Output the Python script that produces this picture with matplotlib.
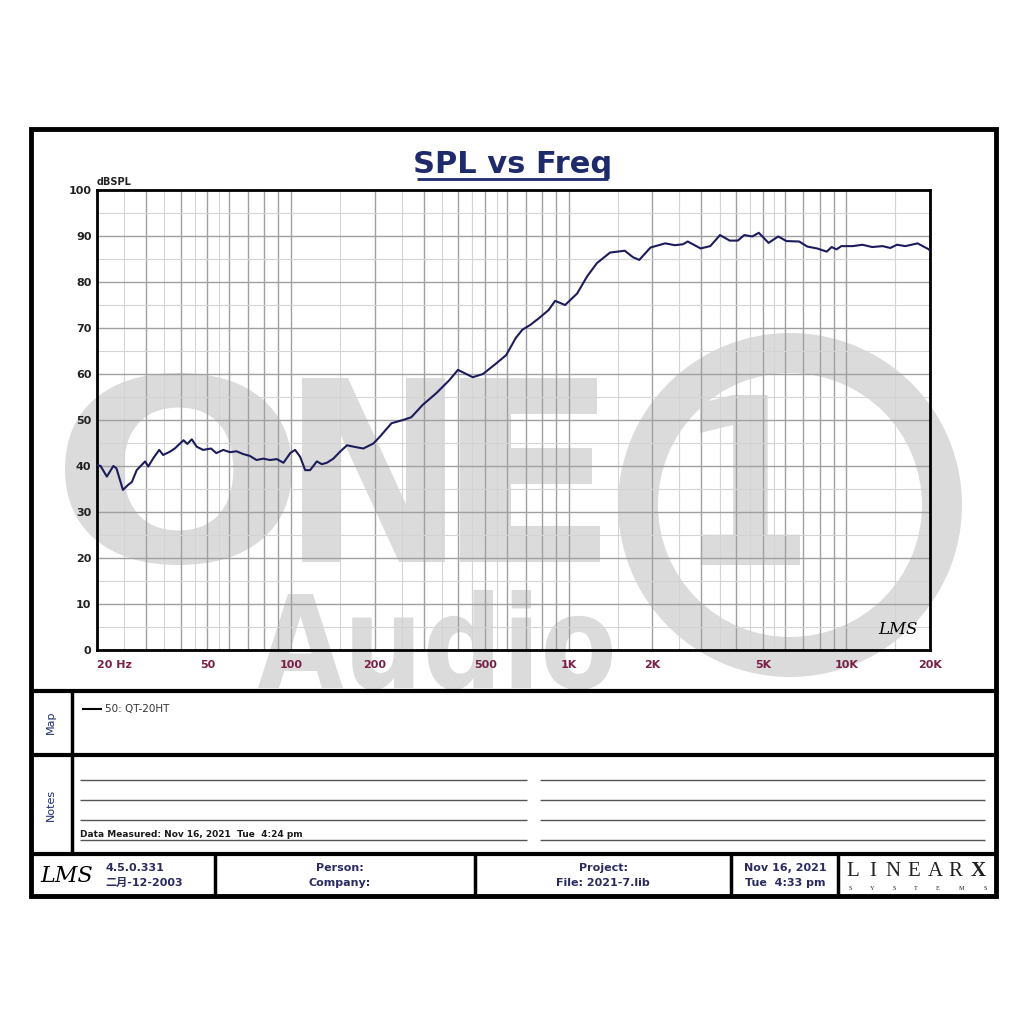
import matplotlib
matplotlib.use('Agg')
import matplotlib.pyplot as plt
from matplotlib.textpath import TextPath
from matplotlib.patches import PathPatch, Annulus, Rectangle
from matplotlib.font_manager import FontProperties
from matplotlib.transforms import Affine2D
from matplotlib.ticker import NullLocator

# ---------------- data ----------------
freq_hz = [20, 20.6, 21.7, 22.9, 23.5, 24.8, 26.0, 26.7, 27.8, 29.8, 30.6, 31.9, 33.5, 34.6,
           36.6, 38.1, 41.0, 42.3, 43.9, 45.7, 48.2, 51.5, 53.8, 57.0, 60.2, 63.6, 67.2, 71.0,
           75.1, 79.4, 84.0, 88.8, 93.9, 99.3, 103.4, 107.8, 112.4, 117.1, 123.8, 129, 134.5,
           142, 150, 159, 168, 182, 198, 209, 230, 253, 271, 298, 333, 372, 399, 421, 451, 491,
           548, 595, 644, 680, 728, 780, 846, 893, 970, 1072, 1164, 1263, 1409, 1591, 1702,
           1794, 1971, 2225, 2412, 2577, 2683, 2984, 3234, 3505, 3798, 4063, 4286, 4583, 4836,
           5242, 5682, 6077, 6761, 7230, 7837, 8495, 8846, 9209, 9590, 10539, 11420, 12375,
           13500, 14400, 15200, 16300, 18040, 19800, 20000]
spl_db = [40.2, 40.0, 37.7, 40.0, 39.5, 34.8, 36.0, 36.5, 39.1, 41.0, 39.9, 41.7, 43.5, 42.4,
          43.1, 43.8, 45.6, 44.8, 45.8, 44.2, 43.5, 43.8, 42.8, 43.5, 43.0, 43.2, 42.6, 42.2,
          41.3, 41.6, 41.3, 41.5, 40.7, 42.8, 43.5, 42.0, 39.1, 39.1, 41.0, 40.4, 40.7,
          41.6, 43.1, 44.5, 44.2, 43.8, 44.9, 46.4, 49.3, 50.0, 50.6, 53.3, 55.8, 58.7, 60.9, 60.2, 59.3, 60.0,
          62.3, 64.1, 67.8, 69.6, 70.7, 72.1, 73.9, 75.9, 75.0, 77.5, 81.2, 84.1, 86.4, 86.8, 85.4,
          84.8, 87.5, 88.4, 88.0, 88.2, 88.8, 87.3, 87.8, 90.2, 89.0, 89.0, 90.2, 89.9, 90.7,
          88.5, 89.9, 88.9, 88.8, 87.7, 87.3, 86.6, 87.6, 87.1, 87.8, 87.8, 88.1, 87.6,
          87.8, 87.4, 88.1, 87.8, 88.4, 87.1, 86.8]
x_tick_values = [20, 50, 100, 200, 500, 1000, 2000, 5000, 10000, 20000]
x_tick_labels = ['20 Hz', '50', '100', '200', '500', '1K', '2K', '5K', '10K', '20K']
y_tick_values = list(range(0, 101, 10))
legend_label = '50: QT-20HT'
title_text = 'SPL vs Freq'

# ---------------- styling ----------------
NAVY = '#1f2a6b'
MAROON = '#7a1f45'
CURVE = '#1c1c5c'
WM = '#dbdbdb'
FT = '#2b2b60'
plt.rcParams['font.family'] = ['DejaVu Sans', 'Noto Sans CJK SC']

W = H = 1024
fig = plt.figure(figsize=(10.24, 10.24), dpi=100)
fig.patch.set_facecolor('white')
bg = fig.add_axes([0, 0, 1, 1], zorder=0)
bg.set_xlim(0, W)
bg.set_ylim(H, 0)
bg.axis('off')


def px_rect(l, t, r, b):
    return [l / W, 1 - b / H, (r - l) / W, (b - t) / H]


# ---------------- watermark ----------------
def glyph(s, x0, x1, y0, y1, weight='bold'):
    tp = TextPath((0, 0), s, size=100, prop=FontProperties(family='DejaVu Sans', weight=weight))
    ext = tp.get_extents()
    sx = (x1 - x0) / ext.width
    sy = (y1 - y0) / ext.height
    tr = Affine2D().translate(-ext.x0, -ext.y1).scale(sx, -sy).translate(x0, y0)
    bg.add_patch(PathPatch(tr.transform_path(tp), fc=WM, ec='none', zorder=1))


glyph('O', 65, 292, 373, 565)
glyph('N', 302, 445, 378, 562)
glyph('E', 460, 600, 378, 562)
glyph('Audio', 258, 612, 590, 690)
bg.add_patch(Annulus((790, 505), 172, 40, fc=WM, ec='none', zorder=1))
glyph('1', 700, 800, 395, 565)

# ---------------- frame ----------------
def hline(y, x0, x1, lw=2.5, color='black'):
    bg.plot([x0, x1], [y, y], color=color, lw=lw, solid_capstyle='butt', zorder=3)


def vline(x, y0, y1, lw=2.5, color='black'):
    bg.plot([x, x], [y0, y1], color=color, lw=lw, solid_capstyle='butt', zorder=3)


bg.add_patch(Rectangle((31, 129), 965, 767, fill=False, ec='black', lw=3.5, zorder=3))
hline(691, 31, 996, lw=3)
hline(755, 31, 996, lw=3)
hline(854, 31, 996, lw=3)
vline(72, 691, 854, lw=2.5)
for xd in [215, 475, 731, 838]:
    vline(xd, 854, 896, lw=2.5)

# ---------------- title ----------------
bg.text(513, 173, title_text, fontsize=22, fontweight='bold', color=NAVY,
        ha='center', va='baseline', zorder=4)
hline(179, 417, 608, lw=2, color=NAVY)
bg.text(97, 185, 'dBSPL', fontsize=7, fontweight='bold', color='#222222',
        ha='left', va='baseline', zorder=4)

# ---------------- main plot ----------------
ax = fig.add_axes(px_rect(97, 190, 930, 650), zorder=2)
ax.set_facecolor('none')
ax.set_xscale('log')
ax.set_xlim(20, 20000)
ax.set_ylim(0, 100)

for dec in [10, 100, 1000, 10000]:
    for m in [1.5, 2.5, 3.5, 4.5, 5.5]:
        f = dec * m
        if 20 < f < 20000:
            ax.axvline(f, color='#d4d4d4', lw=0.8, zorder=1)
    for m in range(1, 10):
        f = dec * m
        if 20 < f < 20000:
            ax.axvline(f, color='#a0a0a0', lw=1.0, zorder=1)
for yv in range(5, 100, 10):
    ax.axhline(yv, color='#d4d4d4', lw=0.8, zorder=1)
for yv in range(10, 100, 10):
    ax.axhline(yv, color='#a0a0a0', lw=1.0, zorder=1)

ax.plot(freq_hz, spl_db, color=CURVE, lw=1.5, zorder=3)

ax.set_xticks(x_tick_values)
ax.set_xticklabels(x_tick_labels)
ax.xaxis.set_minor_locator(NullLocator())
ax.set_yticks(y_tick_values)
ax.tick_params(axis='x', length=0, pad=7, labelsize=8, labelcolor=MAROON)
ax.tick_params(axis='y', length=0, pad=4, labelsize=8, labelcolor='#222222')
for lab in ax.get_xticklabels() + ax.get_yticklabels():
    lab.set_fontweight('bold')
ax.get_xticklabels()[0].set_horizontalalignment('left')
for sp in ax.spines.values():
    sp.set_linewidth(2)
    sp.set_color('black')

ax.text(0.985, 0.025, 'LMS', transform=ax.transAxes, fontsize=12, fontstyle='italic',
        family='DejaVu Serif', ha='right', va='bottom', color='black', zorder=4)

# ---------------- map ----------------
bg.text(51, 722, 'Map', rotation=90, fontsize=8, color=NAVY, ha='center', va='center', zorder=4)
hline(709, 82, 102, lw=1.5, color='black')
bg.text(105, 709, legend_label, fontsize=7.5, color='#333333', ha='left', va='center', zorder=4)

# ---------------- notes ----------------
bg.text(51, 805, 'Notes', rotation=90, fontsize=8, color=NAVY, ha='center', va='center', zorder=4)
for yl in [780, 800, 820, 840]:
    hline(yl, 80, 527, lw=1, color='#555555')
    hline(yl, 540, 985, lw=1, color='#555555')
bg.text(80, 837, 'Data Measured: Nov 16, 2021  Tue  4:24 pm', fontsize=6.5,
        fontweight='bold', color='#1a1a1a', ha='left', va='baseline', zorder=4)

# ---------------- footer ----------------
bg.text(67, 876, 'LMS', fontsize=16, fontstyle='italic', family='DejaVu Serif',
        color='black', ha='center', va='center', zorder=4)
bg.text(105, 868, '4.5.0.331', fontsize=8, fontweight='bold', color=FT, ha='left', va='center', zorder=4)
bg.text(105, 883, '二月-12-2003', fontsize=8, fontweight='bold', color=FT, ha='left', va='center', zorder=4)
bg.text(340, 868, 'Person:', fontsize=8, fontweight='bold', color=FT, ha='center', va='center', zorder=4)
bg.text(340, 883, 'Company:', fontsize=8, fontweight='bold', color=FT, ha='center', va='center', zorder=4)
bg.text(603, 868, 'Project:', fontsize=8, fontweight='bold', color=FT, ha='center', va='center', zorder=4)
bg.text(603, 883, 'File: 2021-7.lib', fontsize=8, fontweight='bold', color=FT, ha='center', va='center', zorder=4)
bg.text(785, 868, 'Nov 16, 2021', fontsize=8, fontweight='bold', color=FT, ha='center', va='center', zorder=4)
bg.text(785, 883, 'Tue  4:33 pm', fontsize=8, fontweight='bold', color=FT, ha='center', va='center', zorder=4)

lx = [853, 873, 893, 914, 935, 955, 978]
for ch, xx in zip('LINEARX', lx):
    bg.text(xx, 871, ch, fontsize=15, family='Liberation Serif',
            fontweight='bold' if ch == 'X' else 'normal', color='#222222',
            ha='center', va='center', zorder=4)
sx = [850, 872, 894, 916, 938, 962, 985]
for ch, xx in zip('SYSTEMS', sx):
    bg.text(xx, 889, ch, fontsize=4.5, family='Liberation Serif', color='#222222',
            ha='center', va='center', zorder=4)

fig.savefig('out.png', dpi=100, facecolor='white')
